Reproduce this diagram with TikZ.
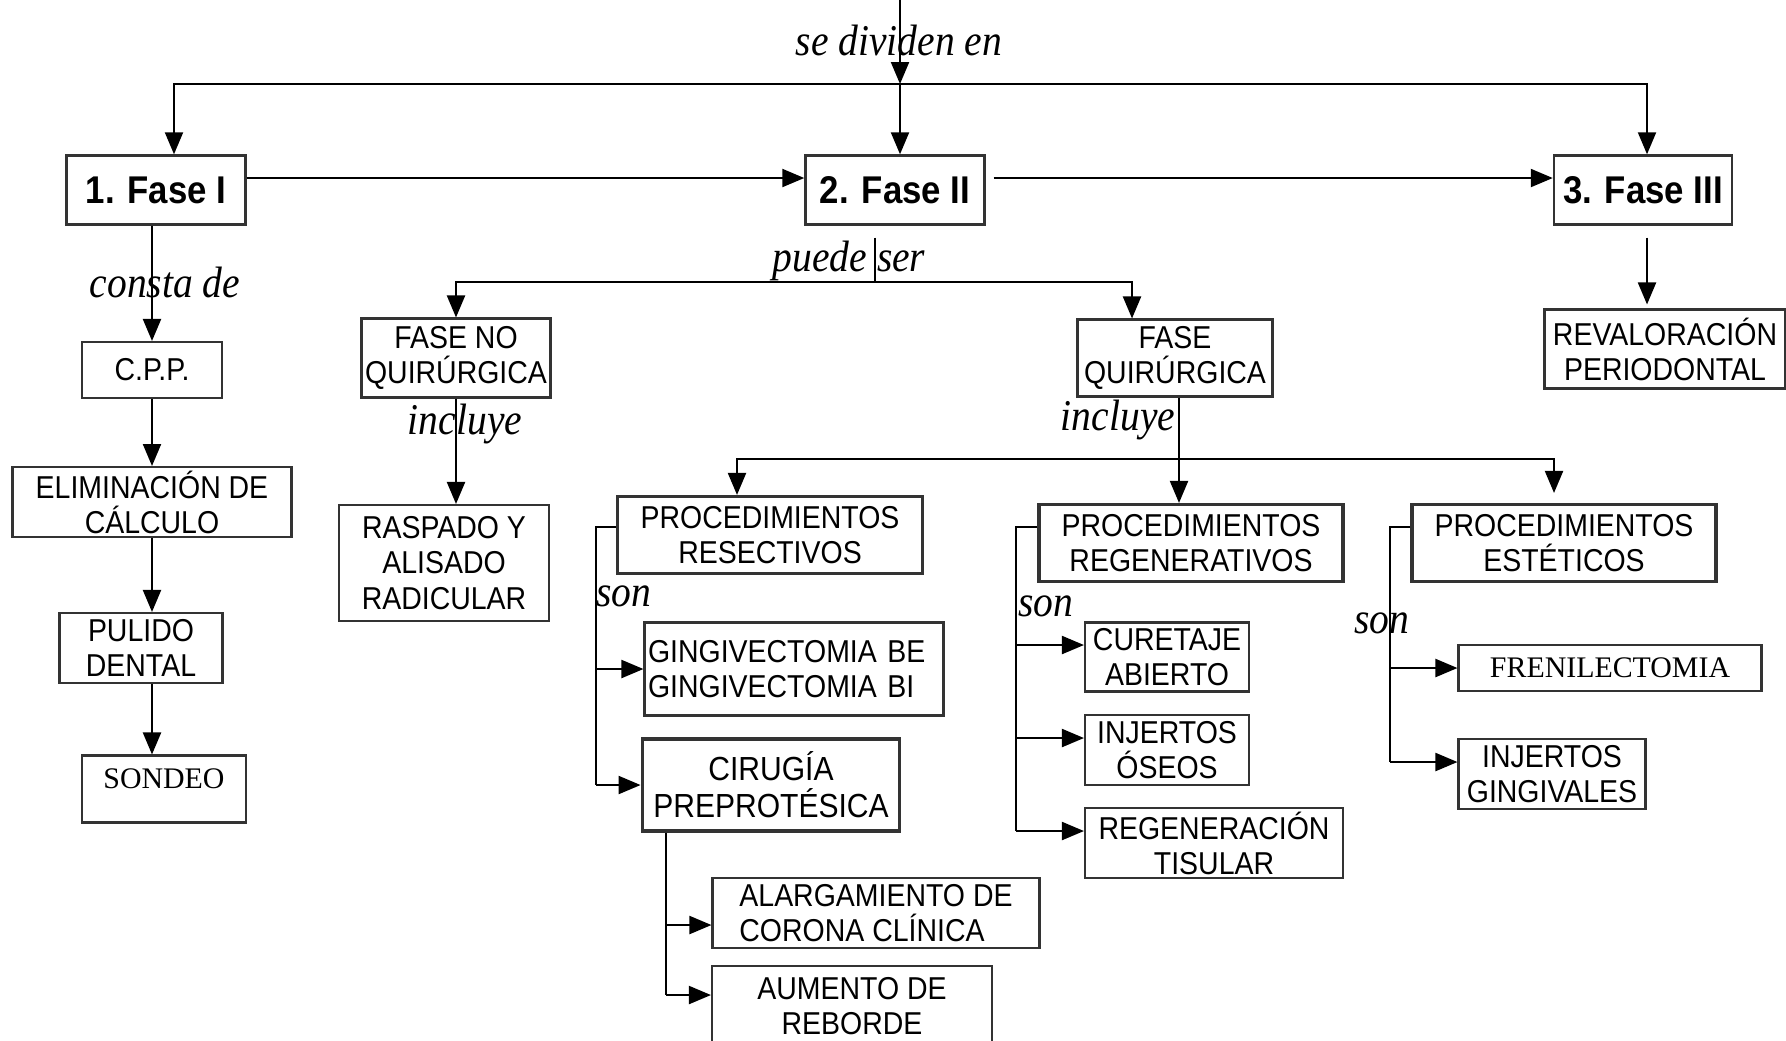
\documentclass[tikz,border=0pt]{standalone}
\usepackage{fontspec}
\setmainfont{Liberation Serif}
\setsansfont{Liberation Sans}
\newfontfamily\boxfont{Liberation Sans}[FakeStretch=0.9]
\newfontfamily\lblfont{Liberation Serif}[FakeStretch=0.9]
\usetikzlibrary{positioning,arrows.meta,calc}

\begin{document}
\begin{tikzpicture}[
    x=0.1mm, y=-0.1mm,
    box/.style={rectangle, draw=black!80, line width=0.6pt, inner xsep=1pt, inner ysep=1pt, align=center, font=\boxfont\fontsize{9}{10}\selectfont},
    thickbox/.style={box, line width=0.9pt},
    phase/.style={box, line width=0.7pt, font=\boxfont\bfseries\fontsize{11}{12}\selectfont},
    serifbox/.style={box, font=\rmfamily\fontsize{8.5}{10}\selectfont},
    lbl/.style={font=\lblfont\itshape\fontsize{12.5}{14}\selectfont, inner sep=0pt},
    arr/.style={-{Triangle[length=2.2mm,width=1.8mm]}, line width=0.6pt},
    link/.style={line width=0.6pt},
]
\useasboundingbox (0,0) rectangle (1786,1040);
\clip (0,0) rectangle (1786,1040);

% Fases
\node[phase, minimum width=17.9mm, minimum height=6.9mm, text depth=0pt] (fase1) at (156,190) {1. Fase I};
\node[phase, minimum width=17.9mm, minimum height=6.9mm, text depth=0pt] (fase2) at (895,190) {2. Fase II};
\node[phase, minimum width=17.8mm, minimum height=6.9mm, text depth=0pt] (fase3) at (1643,190) {3. Fase III};

% Fase I
\node[box, minimum width=14mm, minimum height=5.6mm] (cpp) at (152,370) {C.P.P.};
\node[box, minimum width=27.9mm, minimum height=6.9mm] (elim) at (152,502) {ELIMINACIÓN DE\\CÁLCULO};
\node[box, minimum width=16.3mm, minimum height=7mm] (pulido) at (141,648) {PULIDO\\DENTAL};
\node[serifbox, minimum width=16.4mm, minimum height=6.7mm, text depth=6pt] (sondeo) at (164,789) {SONDEO};

% Fase II
\node[box, minimum width=18.7mm, minimum height=7.9mm] (noquir) at (456,358) {FASE NO\\QUIRÚRGICA};
\node[box, minimum width=21mm, minimum height=11.6mm] (raspado) at (444,563) {RASPADO Y\\ALISADO\\RADICULAR};
\node[box, minimum width=19.5mm, minimum height=7.7mm] (quir) at (1175,358) {FASE\\QUIRÚRGICA};

\node[thickbox, minimum width=30.5mm, minimum height=7.7mm] (resect) at (770,535) {PROCEDIMIENTOS\\RESECTIVOS};
\node[thickbox, minimum width=30.4mm, minimum height=7.7mm] (regen) at (1191,543) {PROCEDIMIENTOS\\REGENERATIVOS};
\node[thickbox, minimum width=30.4mm, minimum height=7.7mm] (estet) at (1564,543) {PROCEDIMIENTOS\\ESTÉTICOS};

\node[box, align=left, text width=29.2mm, minimum height=9.3mm] (gingi) at (794,669) {GINGIVECTOMIA BE\\GINGIVECTOMIA BI};
\node[box, line width=1.1pt, minimum width=25.7mm, minimum height=9.2mm, font=\boxfont\fontsize{9.5}{10.5}\selectfont] (cirugia) at (771,785) {CIRUGÍA\\PREPROTÉSICA};
\node[box, align=left, minimum width=32.7mm, minimum height=7mm] (alarg) at (876,913) {ALARGAMIENTO DE\\CORONA CLÍNICA};
\node[box, minimum width=28mm, minimum height=8mm] (aumento) at (852,1006) {AUMENTO DE\\REBORDE};

\node[box, minimum width=16.4mm, minimum height=6.9mm] (curet) at (1167,657) {CURETAJE\\ABIERTO};
\node[box, minimum width=16.4mm, minimum height=7mm] (injos) at (1167,750) {INJERTOS\\ÓSEOS};
\node[box, minimum width=25.8mm, minimum height=6.9mm] (regtis) at (1214,843) {REGENERACIÓN\\TISULAR};
\node[serifbox, minimum width=30.3mm, minimum height=4.6mm] (freni) at (1610,668) {FRENILECTOMIA};
\node[box, minimum width=18.7mm, minimum height=7mm] (injging) at (1552,774) {INJERTOS\\GINGIVALES};

% Fase III
\node[box, minimum width=24.1mm, minimum height=7.9mm] (reval) at (1665,349) {REVALORACIÓN\\PERIODONTAL};

% Etiquetas
\node[lbl] (divlbl) at (899,40) {se dividen en};
\node[lbl] (constlbl) at (165,282) {consta de};
\node[lbl] (puedelbl) at (849,261) {puede ser};
\node[lbl] (inclbl1) at (465,424) {incluye};
\node[lbl] (inclbl2) at (1118,420) {incluye};
\node[lbl] (sonlbl1) at (624,596) {son};
\node[lbl] (sonlbl2) at (1046,606) {son};
\node[lbl] (sonlbl3) at (1382,623) {son};

% se dividen en
\coordinate (top) at (900,0);
\coordinate (split) at (900,84);
\coordinate (b1) at (174,84);
\coordinate (b3) at (1647,84);
\draw[arr] (top) -- (split);
\draw[arr] (split) -- (split |- fase2.north);
\draw[arr] (split) -- (b1) -- (b1 |- fase1.north);
\draw[arr] (split) -- (b3) -- (b3 |- fase3.north);

% Fase -> Fase
\draw[arr] ([yshift=1.2mm]fase1.east) -- ([yshift=1.2mm]fase2.west);
\draw[arr, shorten <=0.8mm] ([yshift=1.2mm]fase2.east) -- ([yshift=1.2mm]fase3.west);

% consta de
\draw[arr] (cpp.north |- fase1.south) -- (cpp.north);
\draw[arr] (cpp) -- (elim);
\draw[arr] (elim.south) -- (elim.south |- pulido.north);
\draw[arr] (elim.south |- pulido.south) -- (elim.south |- sondeo.north);

% puede ser
\coordinate (ps) at (875,282);
\coordinate (q1) at (1132,282);
\draw[link, shorten <=1.2mm] (ps |- fase2.south) -- (ps);
\draw[arr] (ps) -| (noquir.north);
\draw[arr] (ps) -- (q1) -- (q1 |- quir.north);

% incluye
\draw[arr] (noquir.south) -- (noquir.south |- raspado.north);
\coordinate (inc) at (1179,459);
\coordinate (r1) at (737,459);
\coordinate (r3) at (1554,459);
\draw[link] (inc |- quir.south) -- (inc);
\draw[arr] (inc) -- (inc |- regen.north);
\draw[arr] (inc) -- (r1) -- (r1 |- resect.north);
\draw[arr, shorten >=1mm] (inc) -- (r3) -- (r3 |- estet.north);

% son (resectivos)
\coordinate (s1) at (596,785);
\draw[link] ([yshift=0.8mm]resect.west) -| (s1);
\draw[arr] (s1 |- gingi.west) -- (gingi.west);
\draw[arr] (s1) -- (cirugia.west);

\coordinate (c1) at (666,995);
\coordinate (c0) at ([yshift=-1.2mm]alarg.west);
\draw[link] (c1 |- cirugia.south) -- (c1);
\draw[arr] (c0 -| c1) -- (c0);
\draw[arr] (c1) -- (c1 -| aumento.west);

% son (regenerativos)
\coordinate (g1) at (1016,831);
\draw[link] ([yshift=1.6mm]regen.west) -| (g1);
\foreach \n in {curet,injos,regtis} {
  \coordinate (\n-in) at ([yshift=1.2mm]\n.west);
  \draw[arr] (\n-in -| g1) -- (\n-in);
}

% son (esteticos)
\coordinate (e1) at (1390,762);
\draw[link] ([yshift=1.6mm]estet.west) -| (e1);
\draw[arr] (e1 |- freni.west) -- (freni.west);
\draw[arr] (e1) -- (e1 -| injging.west);

% Fase III
\draw[arr, shorten <=1.2mm, shorten >=0.4mm] (fase3.south -| b3) -- (b3 |- reval.north);

\end{tikzpicture}
\end{document}
